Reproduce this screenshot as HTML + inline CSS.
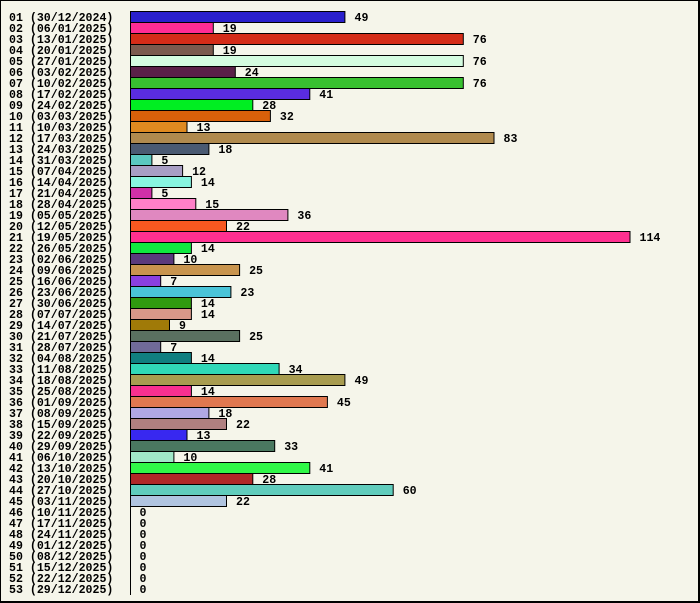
<!DOCTYPE html>
<html><head><meta charset="utf-8"><style>
html,body{margin:0;padding:0;background:#f5f5ea;}
svg{display:block;}
text{font-family:"Liberation Mono",monospace;font-weight:bold;font-size:11.6px;fill:#000;}
</style></head><body>
<svg width="700" height="603" viewBox="0 0 700 603" xmlns="http://www.w3.org/2000/svg">
<rect x="0" y="0" width="700" height="603" fill="#f5f5ea"/>
<path d="M0.5 603 V0.5 H698" stroke="#000" stroke-width="1" fill="none"/>
<rect x="698" y="0" width="2" height="603" fill="#000"/>
<rect x="0" y="601" width="700" height="2" fill="#000"/>
<g stroke="#000" stroke-width="1">
<rect x="130.5" y="11.5" width="214.4" height="11" fill="#2a20cc"/>
<rect x="130.5" y="22.5" width="82.8" height="11" fill="#ff2c94"/>
<rect x="130.5" y="33.5" width="332.8" height="11" fill="#d42c18"/>
<rect x="130.5" y="44.5" width="82.8" height="11" fill="#7a5a4e"/>
<rect x="130.5" y="55.5" width="332.8" height="11" fill="#d4fce0"/>
<rect x="130.5" y="66.5" width="104.8" height="11" fill="#5a2048"/>
<rect x="130.5" y="77.5" width="332.8" height="11" fill="#38c030"/>
<rect x="130.5" y="88.5" width="179.3" height="11" fill="#5a2ce0"/>
<rect x="130.5" y="99.5" width="122.3" height="11" fill="#00ee22"/>
<rect x="130.5" y="110.5" width="139.9" height="11" fill="#d8600a"/>
<rect x="130.5" y="121.5" width="56.5" height="11" fill="#e08a20"/>
<rect x="130.5" y="132.5" width="363.5" height="11" fill="#b08a4e"/>
<rect x="130.5" y="143.5" width="78.4" height="11" fill="#4a5a72"/>
<rect x="130.5" y="154.5" width="21.4" height="11" fill="#5ac8c0"/>
<rect x="130.5" y="165.5" width="52.1" height="11" fill="#a89ec4"/>
<rect x="130.5" y="176.5" width="60.9" height="11" fill="#88f5e0"/>
<rect x="130.5" y="187.5" width="21.4" height="11" fill="#d030a8"/>
<rect x="130.5" y="198.5" width="65.3" height="11" fill="#ff80c8"/>
<rect x="130.5" y="209.5" width="157.4" height="11" fill="#e088c0"/>
<rect x="130.5" y="220.5" width="96" height="11" fill="#f85820"/>
<rect x="130.5" y="231.5" width="499.5" height="11" fill="#ff3090"/>
<rect x="130.5" y="242.5" width="60.9" height="11" fill="#10e840"/>
<rect x="130.5" y="253.5" width="43.4" height="11" fill="#5a3a7c"/>
<rect x="130.5" y="264.5" width="109.1" height="11" fill="#c8944e"/>
<rect x="130.5" y="275.5" width="30.2" height="11" fill="#8a40e0"/>
<rect x="130.5" y="286.5" width="100.4" height="11" fill="#4ac4d8"/>
<rect x="130.5" y="297.5" width="60.9" height="11" fill="#309a10"/>
<rect x="130.5" y="308.5" width="60.9" height="11" fill="#d89888"/>
<rect x="130.5" y="319.5" width="39" height="11" fill="#a07a08"/>
<rect x="130.5" y="330.5" width="109.1" height="11" fill="#5a7060"/>
<rect x="130.5" y="341.5" width="30.2" height="11" fill="#706a98"/>
<rect x="130.5" y="352.5" width="60.9" height="11" fill="#107f80"/>
<rect x="130.5" y="363.5" width="148.6" height="11" fill="#30d8b8"/>
<rect x="130.5" y="374.5" width="214.4" height="11" fill="#a89c50"/>
<rect x="130.5" y="385.5" width="60.9" height="11" fill="#f83090"/>
<rect x="130.5" y="396.5" width="196.9" height="11" fill="#e07850"/>
<rect x="130.5" y="407.5" width="78.4" height="11" fill="#b0a8e4"/>
<rect x="130.5" y="418.5" width="96" height="11" fill="#b08080"/>
<rect x="130.5" y="429.5" width="56.5" height="11" fill="#3828f0"/>
<rect x="130.5" y="440.5" width="144.2" height="11" fill="#4a7860"/>
<rect x="130.5" y="451.5" width="43.4" height="11" fill="#a0e8c8"/>
<rect x="130.5" y="462.5" width="179.3" height="11" fill="#30f848"/>
<rect x="130.5" y="473.5" width="122.3" height="11" fill="#b02828"/>
<rect x="130.5" y="484.5" width="262.7" height="11" fill="#60ccbc"/>
<rect x="130.5" y="495.5" width="96" height="11" fill="#b0c4e0"/>
</g>
<line x1="130.5" y1="11" x2="130.5" y2="595" stroke="#000" stroke-width="1"/>
<g>
<text x="9" y="21">01 (30/12/2024)</text>
<text x="9" y="32">02 (06/01/2025)</text>
<text x="9" y="43">03 (13/01/2025)</text>
<text x="9" y="54">04 (20/01/2025)</text>
<text x="9" y="65">05 (27/01/2025)</text>
<text x="9" y="76">06 (03/02/2025)</text>
<text x="9" y="87">07 (10/02/2025)</text>
<text x="9" y="98">08 (17/02/2025)</text>
<text x="9" y="109">09 (24/02/2025)</text>
<text x="9" y="120">10 (03/03/2025)</text>
<text x="9" y="131">11 (10/03/2025)</text>
<text x="9" y="142">12 (17/03/2025)</text>
<text x="9" y="153">13 (24/03/2025)</text>
<text x="9" y="164">14 (31/03/2025)</text>
<text x="9" y="175">15 (07/04/2025)</text>
<text x="9" y="186">16 (14/04/2025)</text>
<text x="9" y="197">17 (21/04/2025)</text>
<text x="9" y="208">18 (28/04/2025)</text>
<text x="9" y="219">19 (05/05/2025)</text>
<text x="9" y="230">20 (12/05/2025)</text>
<text x="9" y="241">21 (19/05/2025)</text>
<text x="9" y="252">22 (26/05/2025)</text>
<text x="9" y="263">23 (02/06/2025)</text>
<text x="9" y="274">24 (09/06/2025)</text>
<text x="9" y="285">25 (16/06/2025)</text>
<text x="9" y="296">26 (23/06/2025)</text>
<text x="9" y="307">27 (30/06/2025)</text>
<text x="9" y="318">28 (07/07/2025)</text>
<text x="9" y="329">29 (14/07/2025)</text>
<text x="9" y="340">30 (21/07/2025)</text>
<text x="9" y="351">31 (28/07/2025)</text>
<text x="9" y="362">32 (04/08/2025)</text>
<text x="9" y="373">33 (11/08/2025)</text>
<text x="9" y="384">34 (18/08/2025)</text>
<text x="9" y="395">35 (25/08/2025)</text>
<text x="9" y="406">36 (01/09/2025)</text>
<text x="9" y="417">37 (08/09/2025)</text>
<text x="9" y="428">38 (15/09/2025)</text>
<text x="9" y="439">39 (22/09/2025)</text>
<text x="9" y="450">40 (29/09/2025)</text>
<text x="9" y="461">41 (06/10/2025)</text>
<text x="9" y="472">42 (13/10/2025)</text>
<text x="9" y="483">43 (20/10/2025)</text>
<text x="9" y="494">44 (27/10/2025)</text>
<text x="9" y="505">45 (03/11/2025)</text>
<text x="9" y="516">46 (10/11/2025)</text>
<text x="9" y="527">47 (17/11/2025)</text>
<text x="9" y="538">48 (24/11/2025)</text>
<text x="9" y="549">49 (01/12/2025)</text>
<text x="9" y="560">50 (08/12/2025)</text>
<text x="9" y="571">51 (15/12/2025)</text>
<text x="9" y="582">52 (22/12/2025)</text>
<text x="9" y="593">53 (29/12/2025)</text>
</g>
<g>
<text x="354.5" y="21">49</text>
<text x="222.8" y="32">19</text>
<text x="472.8" y="43">76</text>
<text x="222.8" y="54">19</text>
<text x="472.8" y="65">76</text>
<text x="244.8" y="76">24</text>
<text x="472.8" y="87">76</text>
<text x="319.3" y="98">41</text>
<text x="262.3" y="109">28</text>
<text x="279.9" y="120">32</text>
<text x="196.5" y="131">13</text>
<text x="503.5" y="142">83</text>
<text x="218.4" y="153">18</text>
<text x="161.4" y="164">5</text>
<text x="192.1" y="175">12</text>
<text x="200.9" y="186">14</text>
<text x="161.4" y="197">5</text>
<text x="205.3" y="208">15</text>
<text x="297.4" y="219">36</text>
<text x="236" y="230">22</text>
<text x="639.5" y="241">114</text>
<text x="200.9" y="252">14</text>
<text x="183.4" y="263">10</text>
<text x="249.1" y="274">25</text>
<text x="170.2" y="285">7</text>
<text x="240.4" y="296">23</text>
<text x="200.9" y="307">14</text>
<text x="200.9" y="318">14</text>
<text x="179" y="329">9</text>
<text x="249.1" y="340">25</text>
<text x="170.2" y="351">7</text>
<text x="200.9" y="362">14</text>
<text x="288.6" y="373">34</text>
<text x="354.5" y="384">49</text>
<text x="200.9" y="395">14</text>
<text x="336.9" y="406">45</text>
<text x="218.4" y="417">18</text>
<text x="236" y="428">22</text>
<text x="196.5" y="439">13</text>
<text x="284.2" y="450">33</text>
<text x="183.4" y="461">10</text>
<text x="319.3" y="472">41</text>
<text x="262.3" y="483">28</text>
<text x="402.7" y="494">60</text>
<text x="236" y="505">22</text>
<text x="139.5" y="516">0</text>
<text x="139.5" y="527">0</text>
<text x="139.5" y="538">0</text>
<text x="139.5" y="549">0</text>
<text x="139.5" y="560">0</text>
<text x="139.5" y="571">0</text>
<text x="139.5" y="582">0</text>
<text x="139.5" y="593">0</text>
</g>
</svg>
</body></html>
